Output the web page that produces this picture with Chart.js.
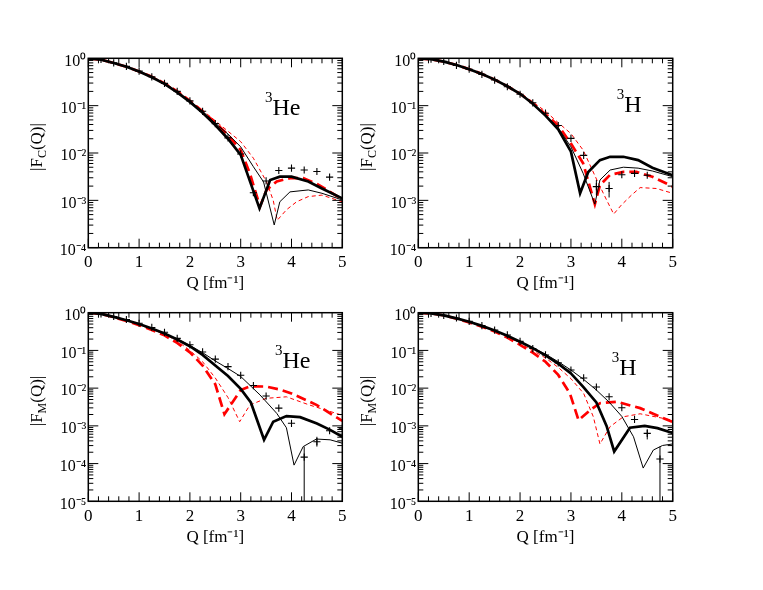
<!DOCTYPE html>
<html>
<head>
<meta charset="utf-8">
<title>3He and 3H form factors</title>
<script src="https://cdn.jsdelivr.net/npm/chart.js@4.4.0/dist/chart.umd.min.js"></script>
<style>
html, body { margin: 0; padding: 0; background: #fff; }
#wrap { position: relative; width: 763px; height: 590px; }
#wrap canvas { position: absolute; left: 0; top: 0; }
</style>
</head>
<body>
<div id="wrap">
<canvas id="c1" width="763" height="590"></canvas>
<canvas id="c2" width="763" height="590"></canvas>
<canvas id="c3" width="763" height="590"></canvas>
<canvas id="c4" width="763" height="590"></canvas>
</div>
<script>
// tick labels
var xTicks = [0, 1, 2, 3, 4, 5];
var yTicksCharge = [1e-4, 1e-3, 1e-2, 1e-1, 1];
var yTicksMag = [1e-5, 1e-4, 1e-3, 1e-2, 1e-1, 1];

// 3He charge form factor (top left)
var heC_thickQ = [0, 0.25, 0.5, 0.75, 1, 1.25, 1.5, 1.75, 2, 2.25, 2.5, 2.75, 3, 3.37, 3.58, 3.77, 4, 4.33, 4.6, 5];
var heC_thickF = [1, 0.933, 0.794, 0.661, 0.525, 0.398, 0.288, 0.191, 0.120, 0.0708, 0.0389, 0.0200, 0.00912, 6.76e-4, 2.69e-3, 3.16e-3, 3.16e-3, 2.51e-3, 1.78e-3, 1.10e-3];
var heC_thinQ = [0, 0.25, 0.5, 0.75, 1, 1.25, 1.5, 1.75, 2, 2.25, 2.5, 2.75, 3, 3.25, 3.45, 3.66, 3.77, 3.97, 4.33, 4.6, 5];
var heC_thinF = [1, 0.933, 0.794, 0.661, 0.525, 0.398, 0.288, 0.195, 0.126, 0.0759, 0.0427, 0.0251, 0.0135, 5.13e-3, 2.45e-3, 3.02e-4, 9.33e-4, 1.51e-3, 1.66e-3, 1.41e-3, 1.02e-3];
var heC_thickDashQ = [0, 0.25, 0.5, 0.75, 1, 1.25, 1.5, 1.75, 2, 2.25, 2.5, 2.75, 3, 3.18, 3.38, 3.51, 3.71, 3.97, 4.23, 4.5, 5];
var heC_thickDashF = [1, 0.933, 0.794, 0.661, 0.525, 0.407, 0.295, 0.200, 0.126, 0.0759, 0.0437, 0.0240, 0.0115, 3.72e-3, 7.41e-4, 1.66e-3, 2.51e-3, 2.95e-3, 2.95e-3, 2.24e-3, 1.05e-3];
var heC_thinDashQ = [0, 0.25, 0.5, 0.75, 1, 1.25, 1.5, 1.75, 2, 2.25, 2.5, 2.75, 3, 3.25, 3.51, 3.64, 3.72, 3.9, 4.1, 4.33, 4.6, 5];
var heC_thinDashF = [1, 0.933, 0.794, 0.676, 0.537, 0.417, 0.302, 0.209, 0.129, 0.0794, 0.0479, 0.0288, 0.0174, 7.76e-3, 2.45e-3, 1.0e-3, 3.80e-4, 6.31e-4, 9.33e-4, 1.20e-3, 1.29e-3, 9.33e-4];
var heC_expQ = [0.25, 0.5, 0.75, 1, 1.25, 1.5, 1.75, 2, 2.25, 2.5, 2.75, 3, 3.25, 3.5, 3.75, 4, 4.25, 4.5, 4.75, 5];
var heC_expF = [0.944, 0.804, 0.676, 0.537, 0.407, 0.295, 0.200, 0.126, 0.0759, 0.0417, 0.0209, 0.00955, 1.45e-3, 2.57e-3, 4.27e-3, 4.79e-3, 4.37e-3, 4.07e-3, 3.09e-3, 2.51e-3];
var heC_errQ = [3.25];
var heC_errLo = [1.25e-3];
var heC_errHi = [1.66e-3];

// 3H charge form factor (top right)
var hC_thickQ = [0, 0.25, 0.5, 0.75, 1, 1.25, 1.5, 1.75, 2, 2.25, 2.5, 2.75, 3, 3.18, 3.34, 3.57, 3.77, 4.03, 4.32, 4.6, 5];
var hC_thickF = [1, 0.955, 0.851, 0.724, 0.589, 0.468, 0.355, 0.257, 0.178, 0.110, 0.0617, 0.0316, 0.0107, 1.41e-3, 3.98e-3, 7.08e-3, 8.32e-3, 8.32e-3, 7.08e-3, 4.90e-3, 3.39e-3];
var hC_thinQ = [0, 0.25, 0.5, 0.75, 1, 1.25, 1.5, 1.75, 2, 2.25, 2.5, 2.75, 3, 3.24, 3.47, 3.57, 3.77, 4.03, 4.32, 4.6, 5];
var hC_thinF = [1, 0.955, 0.851, 0.724, 0.589, 0.468, 0.355, 0.257, 0.178, 0.110, 0.0631, 0.0339, 0.0135, 3.72e-3, 8.32e-4, 2.69e-3, 4.37e-3, 5.01e-3, 4.79e-3, 4.17e-3, 3.16e-3];
var hC_thickDashQ = [0, 0.25, 0.5, 0.75, 1, 1.25, 1.5, 1.75, 2, 2.25, 2.5, 2.75, 3, 3.24, 3.47, 3.57, 3.77, 4.03, 4.29, 4.6, 5];
var hC_thickDashF = [1, 0.955, 0.851, 0.724, 0.589, 0.468, 0.355, 0.257, 0.178, 0.112, 0.0661, 0.0380, 0.0158, 6.03e-3, 8.32e-4, 2.09e-3, 3.47e-3, 3.98e-3, 3.98e-3, 3.16e-3, 1.95e-3];
var hC_thinDashQ = [0, 0.25, 0.5, 0.75, 1, 1.25, 1.5, 1.75, 2, 2.25, 2.5, 2.75, 3, 3.24, 3.51, 3.70, 3.84, 3.99, 4.19, 4.36, 4.68, 5];
var hC_thinDashF = [1, 0.955, 0.851, 0.724, 0.589, 0.468, 0.355, 0.263, 0.186, 0.120, 0.0759, 0.0437, 0.0257, 0.0115, 2.69e-3, 1.02e-3, 5.13e-4, 7.94e-4, 1.29e-3, 1.86e-3, 1.78e-3, 1.41e-3];
var hC_expQ = [0.25, 0.5, 0.75, 1, 1.25, 1.5, 1.75, 2, 2.25, 2.5, 2.75, 3, 3.25, 3.5, 3.75, 4, 4.25, 4.5];
var hC_expF = [0.955, 0.861, 0.708, 0.589, 0.457, 0.347, 0.251, 0.174, 0.115, 0.0692, 0.0380, 0.0204, 8.91e-3, 1.95e-3, 1.78e-3, 3.47e-3, 3.72e-3, 3.39e-3];
var hC_errQ = [3.5, 3.75];
var hC_errLo = [1.29e-3, 1.15e-3];
var hC_errHi = [2.69e-3, 2.45e-3];

// 3He magnetic form factor (bottom left)
var heM_thickQ = [0, 0.25, 0.5, 0.75, 1, 1.25, 1.5, 1.75, 2, 2.25, 2.5, 2.75, 3, 3.2, 3.46, 3.64, 3.9, 4.17, 4.5, 4.75, 5];
var heM_thickF = [1, 0.933, 0.776, 0.631, 0.501, 0.380, 0.282, 0.195, 0.129, 0.0759, 0.0398, 0.0209, 9.55e-3, 4.17e-3, 4.27e-4, 1.29e-3, 1.82e-3, 1.70e-3, 1.15e-3, 7.94e-4, 5.13e-4];
var heM_thinQ = [0, 0.25, 0.5, 0.75, 1, 1.25, 1.5, 1.75, 2, 2.25, 2.5, 2.75, 3, 3.38, 3.71, 3.9, 4.05, 4.23, 4.49, 4.76, 5];
var heM_thinF = [1, 0.933, 0.776, 0.631, 0.501, 0.380, 0.282, 0.200, 0.135, 0.0871, 0.0525, 0.0331, 0.0204, 6.61e-3, 2.14e-3, 8.91e-4, 9.1e-5, 2.82e-4, 4.47e-4, 4.27e-4, 3.47e-4];
var heM_thickDashQ = [0, 0.25, 0.5, 0.75, 1, 1.25, 1.5, 1.75, 2, 2.25, 2.5, 2.68, 3, 3.18, 3.5, 3.75, 4, 4.5, 5];
var heM_thickDashF = [1, 0.933, 0.759, 0.603, 0.468, 0.347, 0.251, 0.158, 0.0891, 0.0398, 0.0126, 2.04e-3, 8.91e-3, 0.0112, 0.0110, 9.33e-3, 7.24e-3, 3.55e-3, 1.35e-3];
var heM_thinDashQ = [0, 0.25, 0.5, 0.75, 1, 1.25, 1.5, 1.75, 2, 2.25, 2.5, 2.75, 2.98, 3.18, 3.5, 3.9, 4.36, 5];
var heM_thinDashF = [1, 0.933, 0.759, 0.617, 0.479, 0.363, 0.269, 0.178, 0.1, 0.0501, 0.0186, 5.62e-3, 1.29e-3, 3.55e-3, 5.37e-3, 5.89e-3, 3.55e-3, 1.91e-3];
var heM_expQ = [0.25, 0.5, 0.75, 1, 1.25, 1.5, 1.75, 2, 2.25, 2.5, 2.75, 3, 3.25, 3.5, 3.75, 4, 4.25, 4.5, 4.75, 5];
var heM_expF = [0.923, 0.794, 0.661, 0.525, 0.407, 0.302, 0.209, 0.141, 0.0912, 0.0589, 0.0372, 0.0219, 0.0117, 6.17e-3, 2.95e-3, 1.17e-3, 1.48e-4, 3.80e-4, 7.41e-4, 8.71e-4];
var heM_errQ = [4.25, 4.5];
var heM_errLo = [1e-7, 2.82e-4];
var heM_errHi = [2.82e-4, 5.13e-4];

// 3H magnetic form factor (bottom right)
var hM_thickQ = [0, 0.25, 0.5, 0.75, 1, 1.25, 1.5, 1.75, 2, 2.25, 2.5, 2.75, 3, 3.25, 3.5, 3.7, 3.85, 4.16, 4.45, 4.7, 5];
var hM_thickF = [1, 0.955, 0.851, 0.708, 0.575, 0.447, 0.339, 0.245, 0.170, 0.115, 0.0741, 0.0447, 0.0245, 0.0105, 4.17e-3, 1.0e-3, 2.09e-4, 8.91e-4, 1.0e-3, 8.71e-4, 6.46e-4];
var hM_thinQ = [0, 0.25, 0.5, 0.75, 1, 1.25, 1.5, 1.75, 2, 2.25, 2.5, 2.75, 3, 3.25, 3.5, 3.75, 4, 4.23, 4.42, 4.62, 4.8, 5];
var hM_thinF = [1, 0.955, 0.851, 0.708, 0.575, 0.447, 0.339, 0.245, 0.170, 0.117, 0.0794, 0.0501, 0.0302, 0.0170, 8.91e-3, 4.27e-3, 1.78e-3, 5.13e-4, 7.6e-5, 2.29e-4, 3.02e-4, 3.31e-4];
var hM_thickDashQ = [0, 0.25, 0.5, 0.75, 1, 1.25, 1.5, 1.75, 2, 2.25, 2.5, 2.75, 2.98, 3.15, 3.38, 3.57, 3.9, 4.36, 5];
var hM_thickDashF = [1, 0.955, 0.851, 0.692, 0.550, 0.427, 0.316, 0.219, 0.141, 0.0871, 0.0501, 0.0224, 7.24e-3, 1.41e-3, 2.63e-3, 3.98e-3, 4.37e-3, 2.95e-3, 1.26e-3];
var hM_thinDashQ = [0, 0.25, 0.5, 0.75, 1, 1.25, 1.5, 1.75, 2, 2.25, 2.5, 2.75, 3, 3.25, 3.44, 3.57, 3.77, 4.03, 4.36, 5];
var hM_thinDashF = [1, 0.955, 0.851, 0.708, 0.562, 0.437, 0.331, 0.234, 0.151, 0.1, 0.0631, 0.0355, 0.0178, 7.24e-3, 1.74e-3, 3.31e-4, 9.55e-4, 1.74e-3, 2.09e-3, 1.41e-3];
var hM_expQ = [0.25, 0.5, 0.75, 1, 1.25, 1.5, 1.75, 2, 2.25, 2.5, 2.75, 3, 3.25, 3.5, 3.75, 4, 4.25, 4.5, 4.75, 5];
var hM_expF = [0.955, 0.851, 0.724, 0.589, 0.457, 0.347, 0.257, 0.174, 0.112, 0.0759, 0.0468, 0.0302, 0.0186, 0.0107, 5.89e-3, 3.02e-3, 1.48e-3, 6.31e-4, 1.32e-4, 2.0e-4];
var hM_errQ = [4.5, 4.75];
var hM_errLo = [4.37e-4, 1e-7];
var hM_errHi = [8.13e-4, 2.82e-4];

var W = 763, H = 590;
var SERIF = '"Liberation Serif", "Times New Roman", serif';
Chart.defaults.font.family = SERIF;
Chart.defaults.color = '#000';

var panels = [
    { canvas: 'c1', area: [88.3, 58.3, 342.3, 247.7], yTicks: yTicksCharge, sub: 'C', nucleus: 'He', tag: [176.7, 56.7],
      thick: [heC_thickQ, heC_thickF], thin: [heC_thinQ, heC_thinF], thickDash: [heC_thickDashQ, heC_thickDashF],
      thinDash: [heC_thinDashQ, heC_thinDashF], exp: [heC_expQ, heC_expF], err: [heC_errQ, heC_errLo, heC_errHi] },
    { canvas: 'c2', area: [418.3, 58.3, 672.7, 247.7], yTicks: yTicksCharge, sub: 'C', nucleus: 'H', tag: [198.4, 53.4],
      thick: [hC_thickQ, hC_thickF], thin: [hC_thinQ, hC_thinF], thickDash: [hC_thickDashQ, hC_thickDashF],
      thinDash: [hC_thinDashQ, hC_thinDashF], exp: [hC_expQ, hC_expF], err: [hC_errQ, hC_errLo, hC_errHi] },
    { canvas: 'c3', area: [88.3, 312.7, 342.3, 501.3], yTicks: yTicksMag, sub: 'M', nucleus: 'He', tag: [186.7, 55.6],
      thick: [heM_thickQ, heM_thickF], thin: [heM_thinQ, heM_thinF], thickDash: [heM_thickDashQ, heM_thickDashF],
      thinDash: [heM_thinDashQ, heM_thinDashF], exp: [heM_expQ, heM_expF], err: [heM_errQ, heM_errLo, heM_errHi] },
    { canvas: 'c4', area: [418.3, 312.7, 672.7, 501.3], yTicks: yTicksMag, sub: 'M', nucleus: 'H', tag: [193.4, 62.3],
      thick: [hM_thickQ, hM_thickF], thin: [hM_thinQ, hM_thinF], thickDash: [hM_thickDashQ, hM_thickDashF],
      thinDash: [hM_thinDashQ, hM_thinDashF], exp: [hM_expQ, hM_expF], err: [hM_errQ, hM_errLo, hM_errHi] }
];

function pts(qs, fs) {
    return qs.map(function (q, i) { return { x: q, y: fs[i] }; });
}

var SUP = { '-': '\u207B', '0': '\u2070', '1': '\u00B9', '2': '\u00B2', '3': '\u00B3', '4': '\u2074', '5': '\u2075' };
function powLabel(v) {
    var e = String(Math.round(Math.log10(v)));
    return '10' + e.split('').map(function (c) { return SUP[c]; }).join('');
}

// draw a run of [text, size, dy] pieces starting at x
function richText(ctx, parts, x, y) {
    parts.forEach(function (p) {
        ctx.font = p[1] + 'px ' + SERIF;
        ctx.fillText(p[0], x, y + p[2]);
        x += ctx.measureText(p[0]).width;
    });
}
function richWidth(ctx, parts) {
    var w = 0;
    parts.forEach(function (p) { ctx.font = p[1] + 'px ' + SERIF; w += ctx.measureText(p[0]).width; });
    return w;
}

var panelDecor = {
    id: 'panelDecor',
    afterDatasetsDraw: function (chart, args, opts) {
        var ctx = chart.ctx, a = chart.chartArea, xs = chart.scales.x, ys = chart.scales.y;
        ctx.save();
        ctx.strokeStyle = '#000';
        ctx.lineWidth = 1;
        ctx.beginPath();
        // x ticks, inward, bottom and top
        for (var i = 0; i <= 25; i++) {
            var px = xs.getPixelForValue(i / 5);
            var len = i % 5 === 0 ? 9 : 5;
            ctx.moveTo(px, a.bottom); ctx.lineTo(px, a.bottom - len);
            ctx.moveTo(px, a.top); ctx.lineTo(px, a.top + len);
        }
        // y ticks, inward, left and right
        for (var d = Math.round(Math.log10(ys.min)); d < 0; d++) {
            for (var k = 1; k <= 9; k++) {
                var py = ys.getPixelForValue(k * Math.pow(10, d));
                var l = k === 1 ? 10 : 5;
                ctx.moveTo(a.left, py); ctx.lineTo(a.left + l, py);
                ctx.moveTo(a.right, py); ctx.lineTo(a.right - l, py);
            }
        }
        ctx.stroke();
        ctx.lineWidth = 1.5;
        ctx.strokeRect(a.left, a.top, a.right - a.left, a.bottom - a.top);

        ctx.fillStyle = '#000';
        ctx.textBaseline = 'alphabetic';
        ctx.textAlign = 'left';
        // nucleus tag
        richText(ctx, [['3', 15, -13], [opts.nucleus, 24, 0]], a.left + opts.tag[0], a.top + opts.tag[1]);
        // y title |F_C(Q)|
        var parts = [['|F', 17, 0], [opts.sub, 12, 4], ['(Q)|', 17, 0]];
        var w = richWidth(ctx, parts);
        ctx.translate(a.left - 46, (a.top + a.bottom) / 2 - 6);
        ctx.rotate(-Math.PI / 2);
        richText(ctx, parts, -w / 2, 0);
        ctx.restore();
    }
};

function makeChart(p) {
    var datasets = [];
    datasets.push({ data: pts(p.exp[0], p.exp[1]), showLine: false, pointStyle: 'cross',
        pointRadius: 3.6, borderColor: '#000', borderWidth: 1.1 });
    p.err[0].forEach(function (q, i) {
        datasets.push({ data: [{ x: q, y: p.err[1][i] }, { x: q, y: p.err[2][i] }],
            borderColor: '#000', borderWidth: 1, pointRadius: 0 });
    });
    datasets.push({ data: pts(p.thick[0], p.thick[1]), borderColor: '#000', borderWidth: 2.7, pointRadius: 0 });
    datasets.push({ data: pts(p.thin[0], p.thin[1]), borderColor: '#000', borderWidth: 1, pointRadius: 0 });
    datasets.push({ data: pts(p.thickDash[0], p.thickDash[1]), borderColor: '#ff0000', borderWidth: 2.7,
        borderDash: [10, 5], pointRadius: 0 });
    datasets.push({ data: pts(p.thinDash[0], p.thinDash[1]), borderColor: '#ff0000', borderWidth: 1,
        borderDash: [4, 3], pointRadius: 0 });

    new Chart(document.getElementById(p.canvas), {
        type: 'line',
        data: { datasets: datasets },
        options: {
            responsive: false,
            animation: false,
            events: [],
            layout: { padding: { left: p.area[0] - 60, top: p.area[1], right: W - p.area[2], bottom: H - p.area[3] - 46 } },
            elements: { line: { tension: 0, fill: false } },
            plugins: {
                legend: { display: false },
                tooltip: { enabled: false },
                panelDecor: { sub: p.sub, nucleus: p.nucleus, tag: p.tag }
            },
            scales: {
                x: {
                    type: 'linear', min: 0, max: 5,
                    grid: { display: false, drawTicks: false },
                    border: { display: false },
                    afterBuildTicks: function (s) { s.ticks = xTicks.map(function (v) { return { value: v }; }); },
                    ticks: { padding: 5, autoSkip: false, maxRotation: 0, color: '#000', font: { size: 17 } },
                    title: { display: true, text: 'Q [fm\u207B\u00B9]', color: '#000', font: { size: 17 }, padding: 0 },
                    afterFit: function (s) { s.height = 46; }
                },
                y: {
                    type: 'logarithmic', min: p.yTicks[0], max: 1,
                    grid: { display: false, drawTicks: false },
                    border: { display: false },
                    afterBuildTicks: function (s) { s.ticks = p.yTicks.map(function (v) { return { value: v }; }); },
                    ticks: { padding: 2, autoSkip: false, labelOffset: 3, color: '#000', font: { size: 16 },
                        callback: function (v) { return powLabel(v); } },
                    afterFit: function (s) { s.width = 60; }
                }
            }
        },
        plugins: [panelDecor]
    });
}

panels.forEach(makeChart);
</script>
</body>
</html>
